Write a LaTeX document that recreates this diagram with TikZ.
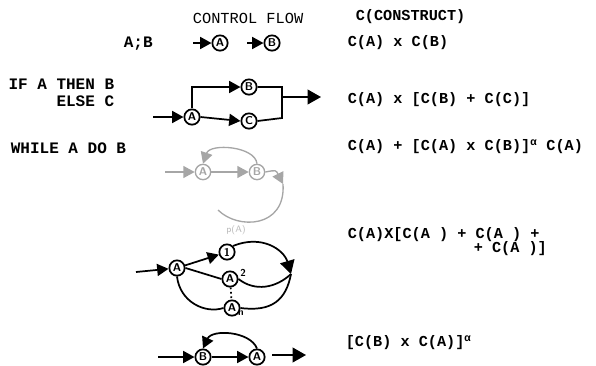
\documentclass[tikz,border=0pt]{standalone}
\usepackage{fontspec}
\setmonofont{Liberation Mono}
\usetikzlibrary{arrows.meta}
\begin{document}
\begin{tikzpicture}[x=0.75pt,y=-0.75pt,
  line width=1.3pt,
  st/.style={circle,draw,line width=1.3pt,minimum size=11.5pt,inner sep=0pt,font=\sffamily\bfseries\fontsize{8.5}{8.5}\selectfont},
  stg/.style={st,draw=gray!70,text=gray!70,line width=1pt},
  arr/.style={-{Triangle[length=8.5pt,width=9pt]}},
  bigarr/.style={-{Triangle[length=10pt,width=11pt]}},
  lt/.style={anchor=west,inner sep=0pt,font=\ttfamily\bfseries\fontsize{12}{14}\selectfont},
  rt/.style={anchor=west,inner sep=0pt,font=\ttfamily\bfseries\fontsize{11.4}{14}\selectfont},
  hdr/.style={anchor=west,inner sep=0pt,font=\ttfamily\fontsize{11.5}{14}\selectfont},
  sml/.style={inner sep=0pt,font=\sffamily\bfseries\fontsize{7.5}{7.5}\selectfont}
]
\useasboundingbox (0,0) rectangle (596,365);

% headers
\node[hdr] (cf) at (192,18) {CONTROL FLOW};
\node[rt] (cc) at (355,17) {C(CONSTRUCT)};

% row 1: sequence
\node[lt] (seq) at (123,44) {A;B};
\coordinate (s0) at (193,43);
\node[st] (sA) at (220,43) {A};
\coordinate (s1) at (247,43);
\node[st] (sB) at (272,43) {B};
\draw[arr] (s0) -- (sA);
\draw[arr] (s1) -- (sB);
\node[rt] (e1) at (347,43) {C(A) x C(B)};

% row 2: if then else
\node[lt,anchor=east] (if1) at (115,84) {IF A THEN B};
\node[lt,anchor=east] (if2) at (115,101) {ELSE C};
\coordinate (i0) at (153,117);
\node[st] (iA) at (192,117) {A};
\node[st] (iB) at (249,87) {B};
\node[st] (iC) at (249,121) {C};
\coordinate (im) at (282,118);
\coordinate (io0) at (282,97);
\coordinate (io1) at (321,97);
\draw[arr] (i0) -- (iA);
\draw[arr] (iA.north) |- (iB.west);
\draw[arr] (iA.east) -- (iC.west);
\draw (iB.east) -| (im) -- (iC.east);
\draw[bigarr] (io0) -- (io1);
\node[rt] (e2) at (347,100) {C(A) x [C(B) + C(C)]};

% row 3: while
\node[lt] (wh) at (10,148) {WHILE A DO B};
\coordinate (w0) at (165,172);
\node[stg] (wA) at (203,172) {A};
\node[stg] (wB) at (257,172) {B};
\coordinate (wx) at (283,184);
\coordinate (wend) at (218,210);
\begin{scope}[draw=gray!70,color=gray!70,line width=1pt]
\draw[arr] (w0) -- (wA);
\draw[arr] (wA) -- (wB);
\draw[arr] (wB.north) .. controls (255,146) and (210,143) .. (wA.north);
\draw[arr] (wB.east) .. controls (276,170) .. (wx);
\draw (wx) .. controls (286,228) and (238,230) .. (wend);
\end{scope}
\node[inner sep=0pt,text=gray!55,font=\sffamily\fontsize{7}{7}\selectfont] (pa) at (236,230) {p(A)};
\node[rt] (e3) at (347,147) {C(A) + [C(A) x C(B)]\textsuperscript{α} C(A)};

% row 4: case
\coordinate (c0) at (136,272);
\node[st] (cA) at (177,268) {A};
\node[st] (c1) at (227,252) {1};
\node[st] (c2) at (230,279) {A};
\node[sml] (c2l) at (243,273) {2};
\node[st] (cn) at (232,308) {A};
\node[sml] (cnl) at (241,313) {n};
\coordinate (cj) at (291,274);
\draw[arr] (c0) -- (cA);
\draw[arr] (cA) -- (c1);
\draw (cA.east) -- (c2.west);
\draw[dotted] (c2) -- (cn);
\draw (cA.south) .. controls (180,302) and (205,314) .. (cn.west);
\draw[bigarr] (c1.north east) .. controls (262,234) and (284,250) .. (cj);
\draw (c2.east) .. controls (255,292) and (276,288) .. (cj);
\draw (cn.east) .. controls (272,312) and (286,300) .. (cj);
\node[rt] (e4a) at (347,235) {C(A)X[C(A ) + C(A ) +};
\node[rt] (e4b) at (473,249) {+ C(A )]};

% row 5: repeat
\coordinate (b0) at (158,357);
\node[st] (bB) at (203,357) {B};
\node[st] (bA) at (257,357) {A};
\coordinate (bx0) at (272,355);
\coordinate (bx1) at (306,355);
\draw[arr] (b0) -- (bB);
\draw[arr] (bB) -- (bA);
\draw[arr] (bA.north) .. controls (250,331) and (212,329) .. (bB.north);
\draw[bigarr] (bx0) -- (bx1);
\node[rt] (e5) at (345,343) {[C(B) x C(A)]\textsuperscript{α}};
\end{tikzpicture}
\end{document}
